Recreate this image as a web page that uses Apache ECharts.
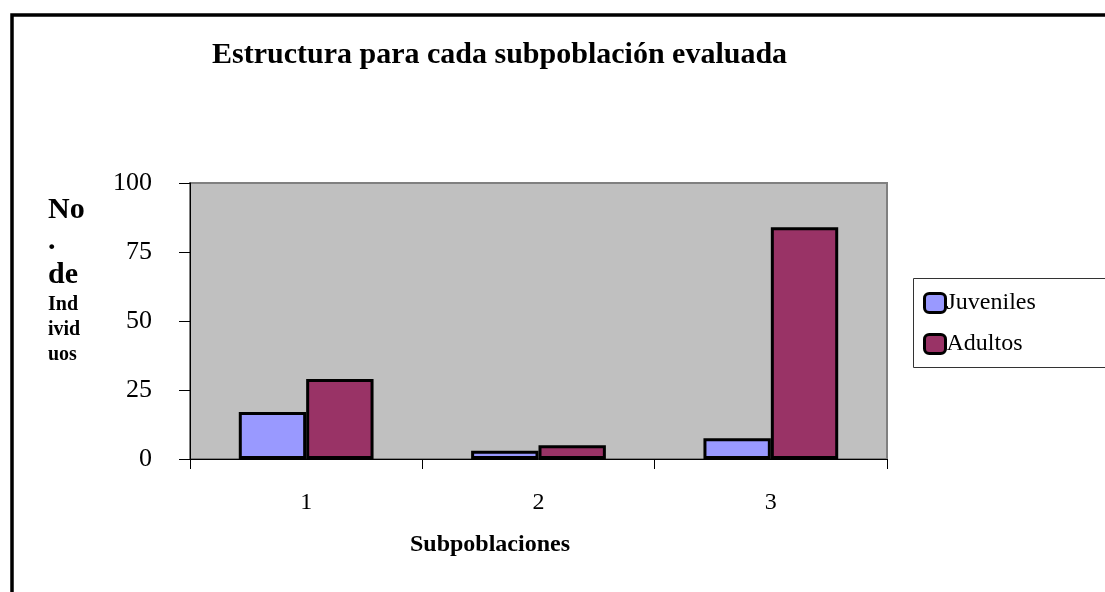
<!DOCTYPE html>
<html>
<head>
<meta charset="utf-8">
<script src="https://cdn.jsdelivr.net/npm/echarts@6/dist/echarts.min.js"></script>
<style>
  html, body { margin: 0; padding: 0; background: #fff; }
  #chart { width: 1105px; height: 592px; }
</style>
</head>
<body>
<div id="chart"></div>
<script>
var categories = ['1', '2', '3'];
var juveniles = [17, 3, 7.5];
var adultos = [29, 5, 84];
var yTicks = { min: 0, max: 100, interval: 25 };

var serif = '"Liberation Serif", "DejaVu Serif", serif';

var chart = echarts.init(document.getElementById('chart'));

// stacked y-axis caption, broken up the same way as the original
var yCaption = [
    { text: 'No', y: 210, size: 30 },
    { text: '.', y: 241, size: 30 },
    { text: 'de', y: 275, size: 30 },
    { text: 'Ind', y: 305, size: 20 },
    { text: 'ivid', y: 330, size: 20 },
    { text: 'uos', y: 355, size: 20 }
];

var option = {
    backgroundColor: '#fff',
    animation: false,
    title: {
        text: 'Estructura para cada subpoblación evaluada',
        left: 212,
        top: 40,
        padding: 0,
        textStyle: {
            fontFamily: serif,
            fontWeight: 'bold',
            fontSize: 30,
            color: '#000'
        }
    },
    legend: {
        orient: 'vertical',
        left: 923,
        top: 291,
        padding: 0,
        itemWidth: 21,
        itemHeight: 19,
        itemGap: 17,
        data: ['Juveniles', 'Adultos'],
        textStyle: {
            fontFamily: serif,
            fontSize: 24,
            color: '#000',
            padding: [0, 0, 0, -4]
        },
        itemStyle: {
            borderColor: '#000',
            borderWidth: 3
        }
    },
    grid: {
        left: 190,
        right: 218,
        top: 183,
        bottom: 133,
        show: true,
        backgroundColor: '#C0C0C0',
        borderColor: '#808080',
        borderWidth: 2
    },
    xAxis: {
        type: 'category',
        data: categories,
        axisLine: { lineStyle: { color: '#000', width: 1 } },
        axisTick: { show: true, length: 10, lineStyle: { color: '#000' } },
        axisLabel: {
            margin: 32,
            fontFamily: serif,
            fontSize: 24,
            color: '#000'
        }
    },
    yAxis: {
        type: 'value',
        min: yTicks.min,
        max: yTicks.max,
        interval: yTicks.interval,
        axisLine: { show: true, lineStyle: { color: '#000', width: 1 } },
        axisTick: { show: true, length: 11, lineStyle: { color: '#000' } },
        splitLine: { show: false },
        axisLabel: {
            margin: 38,
            fontFamily: serif,
            fontSize: 26,
            color: '#000'
        }
    },
    series: [
        {
            name: 'Juveniles',
            type: 'bar',
            data: juveniles,
            barGap: 0,
            barCategoryGap: '42%',
            itemStyle: { color: '#9999FF', borderColor: '#000', borderWidth: 3 }
        },
        {
            name: 'Adultos',
            type: 'bar',
            data: adultos,
            itemStyle: { color: '#993366', borderColor: '#000', borderWidth: 3 }
        }
    ],
    graphic: [
        {
            type: 'rect',
            shape: { x: 12, y: 15, width: 1110, height: 600 },
            style: { fill: 'none', stroke: '#000', lineWidth: 3.5 },
            z: 100
        },
        {
            type: 'rect',
            shape: { x: 913.5, y: 278.5, width: 200, height: 89 },
            style: { fill: 'none', stroke: '#333', lineWidth: 1 }
        },
        {
            // x-axis caption sits left of the plot centre in the original
            type: 'text',
            x: 490,
            y: 545,
            style: {
                text: 'Subpoblaciones',
                font: 'bold 24px ' + serif,
                fill: '#000',
                align: 'center',
                verticalAlign: 'middle'
            }
        }
    ].concat(yCaption.map(function (c) {
        return {
            type: 'text',
            x: 48,
            y: c.y,
            style: {
                text: c.text,
                font: 'bold ' + c.size + 'px ' + serif,
                fill: '#000',
                verticalAlign: 'middle'
            }
        };
    }))
};

chart.setOption(option);
</script>
</body>
</html>
